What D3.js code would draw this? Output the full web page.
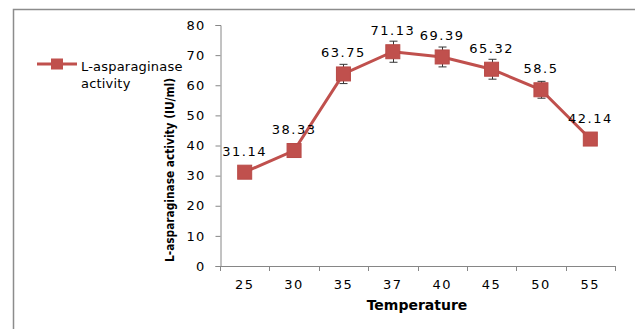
<!DOCTYPE html>
<html><head><meta charset="utf-8">
<script src="https://cdn.jsdelivr.net/npm/d3@7/dist/d3.min.js"></script>
<style>body{margin:0;background:#fff}svg{display:block}</style>
</head><body>
<svg id="c" width="635" height="329"></svg>
<script>
const categories = ["25","30","35","37","40","45","50","55"];
const values = [31.14,38.33,63.75,71.13,69.39,65.32,58.5,42.14];
const errors = [0.5,1,3.2,3.5,3.3,3.3,2.8,1.5];
const yTicks = [0,10,20,30,40,50,60,70,80];
const seriesName = ["L-asparaginase","activity"];
const xTitle = "Temperature";
const yTitle = "L-asparaginase activity (IU/ml)";

const svg = d3.select("#c");
const color = "#C0504D";
const font = "DejaVu Sans";

// frame
svg.append("path").attr("d","M13.5,329 V9.5 H635").attr("fill","none").attr("stroke","#8c8c8c").attr("stroke-width",1.5);

const x = d3.scaleBand().domain(categories).range([220,615]);
const y = d3.scaleLinear().domain([0,80]).range([266,25]);

const yAxis = svg.append("g").attr("transform","translate(220.5,0)")
  .call(d3.axisLeft(y).tickValues(yTicks).tickSize(5).tickPadding(10));
yAxis.select(".domain").attr("stroke","#868686");
yAxis.selectAll(".tick line").attr("stroke","#868686");
yAxis.selectAll("text").attr("font-family",font).attr("font-size",13).attr("fill","#000").attr("letter-spacing",1.2);

const xAxis = svg.append("g").attr("transform","translate(0,266.5)")
  .call(d3.axisBottom(x).tickSize(0).tickPadding(13));
xAxis.select(".domain").attr("stroke","#868686").attr("d","M220,0H615");
xAxis.selectAll("text").attr("font-family",font).attr("font-size",13).attr("fill","#000").attr("letter-spacing",1.5);
// tick marks at band boundaries
const bounds = categories.map(c=>x(c)).concat([x(categories[categories.length-1])+x.bandwidth()]);
svg.append("g").selectAll("line").data(bounds).join("line")
  .attr("x1",d=>Math.round(d)+0.5).attr("x2",d=>Math.round(d)+0.5).attr("y1",266).attr("y2",271)
  .attr("stroke","#868686");

const cx = c => x(c)+x.bandwidth()/2;

// titles
svg.append("text").attr("x",417).attr("y",310).attr("text-anchor","middle")
  .attr("font-family",font).attr("font-size",14).attr("font-weight","bold").text(xTitle);
svg.append("text").attr("transform","translate(174,170) rotate(-90)").attr("text-anchor","middle")
  .attr("font-family",font).attr("font-size",13).attr("font-weight","bold")
  .attr("textLength",184).attr("lengthAdjust","spacingAndGlyphs").text(yTitle);

// line
const line = d3.line().x((d,i)=>cx(categories[i])).y(d=>y(d));
svg.append("path").datum(values).attr("d",line).attr("fill","none").attr("stroke",color).attr("stroke-width",3);

// error bars
const eb = svg.append("g").attr("stroke","#333").attr("stroke-width",1);
values.forEach((v,i)=>{
  const px = Math.round(cx(categories[i]))+0.5;
  eb.append("line").attr("x1",px).attr("x2",px).attr("y1",y(v+errors[i])).attr("y2",y(v-errors[i]));
  eb.append("line").attr("x1",px-4).attr("x2",px+4).attr("y1",y(v+errors[i])).attr("y2",y(v+errors[i]));
  eb.append("line").attr("x1",px-4).attr("x2",px+4).attr("y1",y(v-errors[i])).attr("y2",y(v-errors[i]));
});

// markers
svg.append("g").selectAll("rect").data(values).join("rect")
  .attr("x",(d,i)=>cx(categories[i])-7).attr("y",d=>y(d)-7).attr("width",14).attr("height",14)
  .attr("fill",color).attr("stroke","#b84a47").attr("stroke-width",1);

// data labels
svg.append("g").selectAll("text").data(values).join("text")
  .attr("x",(d,i)=>cx(categories[i])).attr("y",d=>y(d)-16.5)
  .attr("text-anchor","middle").attr("font-family",font).attr("font-size",13).attr("letter-spacing",1.5)
  .text(d=>d);

// legend
const lg = svg.append("g");
lg.append("line").attr("x1",37).attr("x2",77).attr("y1",64).attr("y2",64).attr("stroke",color).attr("stroke-width",3);
lg.append("rect").attr("x",51).attr("y",58.5).attr("width",12).attr("height",11).attr("fill",color);
lg.append("text").attr("font-family",font).attr("font-size",13).attr("letter-spacing",0.2)
  .selectAll("tspan").data(seriesName).join("tspan").attr("x",81).attr("y",(d,i)=>70.5+i*17.5).text(d=>d);
</script>
</body></html>
